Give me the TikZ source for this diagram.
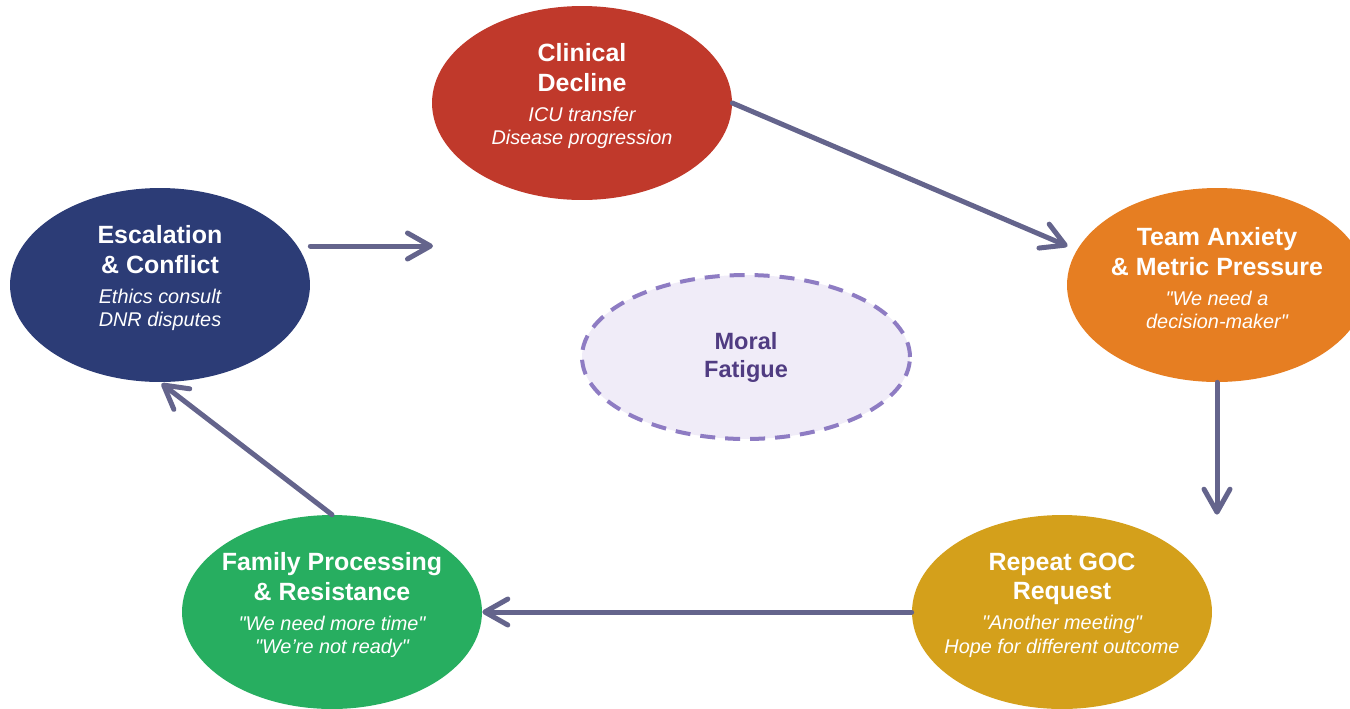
\documentclass[tikz,border=0pt]{standalone}
\usepackage{fontspec}
\setmainfont{Liberation Sans}[Ligatures=TeXOff]
\usetikzlibrary{shapes.geometric,arrows.meta}

\definecolor{declinered}{HTML}{C0392B}
\definecolor{anxietyorange}{HTML}{E67E22}
\definecolor{requestgold}{HTML}{D4A01B}
\definecolor{familygreen}{HTML}{27AE60}
\definecolor{conflictnavy}{HTML}{2C3C76}
\definecolor{flowgray}{HTML}{64648C}
\definecolor{fatigueline}{HTML}{8E7CC3}
\definecolor{fatiguefill}{HTML}{F0ECF8}
\definecolor{fatiguetext}{HTML}{503C82}

\newcommand{\quip}[1]{{\fontsize{11.3}{13.3}\selectfont\mdseries\itshape #1}}

\tikzset{
  stage/.style={ellipse, minimum width=6cm, minimum height=3.88cm, inner sep=0pt},
  stagetext/.style={text=white, align=center, inner sep=0pt,
    font=\fontsize{14.2}{17}\selectfont\bfseries},
  flow/.style={draw=flowgray, line width=0.1cm, line cap=round,
    -{Straight Barb[round,length=0.46cm,width=0.52cm]}},
  fatigue/.style={ellipse, draw=fatigueline, fill=fatiguefill, line width=0.08cm,
    dash pattern=on 0.3cm off 0.2cm, minimum width=6.56cm, minimum height=3.28cm,
    text=fatiguetext, align=center, font=\fontsize{13.4}{15.9}\selectfont\bfseries}
}

\begin{document}
\begin{tikzpicture}[x=0.02cm, y=-0.02cm]
  \useasboundingbox (0,0) rectangle (1350,708);
  \clip (0,0) rectangle (1350,708);

  % the five stages of the cycle
  \node[stage, fill=declinered] (clin) at (582,103) {};
  \node[stage, fill=anxietyorange] (team) at (1217,285) {};
  \node[stage, fill=requestgold] (goc) at (1062,612) {};
  \node[stage, fill=familygreen] (fam) at (332,612) {};
  \node[stage, fill=conflictnavy] (esc) at (160,285) {};

  \node[stagetext] (clin-t) at ([yshift=0.14cm]clin)
    {Clinical\\Decline\\\quip{ICU transfer}\\[-3.7pt]\quip{Disease progression}};
  \node[stagetext] (team-t) at ([yshift=0.14cm]team)
    {Team Anxiety\\\& Metric Pressure\\\quip{"We need a}\\[-3.7pt]\quip{decision-maker"}};
  \node[stagetext] (goc-t) at ([yshift=0.14cm]goc)
    {Repeat GOC\\Request\\\quip{"Another meeting"}\\[-3.7pt]\quip{Hope for different outcome}};
  \node[stagetext] (fam-t) at ([yshift=0.14cm]fam)
    {Family Processing\\\& Resistance\\\quip{"We need more time"}\\[-3.7pt]\quip{"We’re not ready"}};
  \node[stagetext] (esc-t) at ([yshift=0.14cm]esc)
    {Escalation\\\& Conflict\\\quip{Ethics consult}\\[-3.7pt]\quip{DNR disputes}};

  % centre
  \node[fatigue] (moral) at (746,357) {Moral\\Fatigue};

  % arrows round the loop
  \coordinate (loopend) at (433,246);
  \draw[flow, shorten >=0.2cm] (clin.east) -- (team.166);
  \draw[flow] (team.south) -- (team.south |- goc.north);
  \draw[flow] (goc.west) -- (fam.east);
  \draw[flow, shorten >=0.04cm] (fam.north) -- (esc.south);
  \draw[flow] (esc.east |- loopend) -- (loopend);
\end{tikzpicture}
\end{document}
